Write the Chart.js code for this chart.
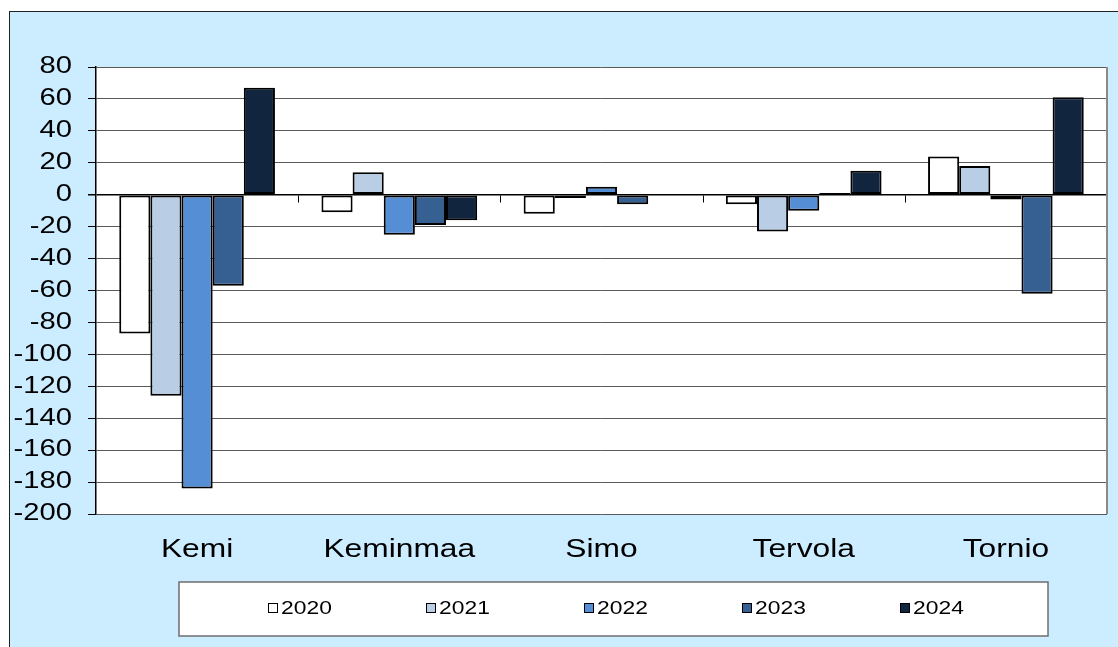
<!DOCTYPE html>
<html>
<head>
<meta charset="utf-8">
<script src="https://cdn.jsdelivr.net/npm/chart.js@4.4.1/dist/chart.umd.min.js"></script>
<style>
  html, body { margin:0; padding:0; background:#ffffff; width:1118px; height:647px; overflow:hidden; }
  #frame { position:absolute; left:9px; top:11px; width:1120px; height:650px; background:#CCECFF; border-left:1px solid #222; border-top:1px solid #222; }
  #wrap { position:absolute; left:0; top:0; width:1118px; height:647px; }
</style>
</head>
<body>
<div id="frame"></div>
<div id="wrap"><canvas id="c" width="1118" height="647"></canvas></div>
<script>
const categories = ['Kemi', 'Keminmaa', 'Simo', 'Tervola', 'Tornio'];
const seriesNames = ['2020', '2021', '2022', '2023', '2024'];
const v2020 = [-87, -11, -12, -6, 24];
const v2021 = [-126, 14, -2, -23, 18];
const v2022 = [-184, -25, 5, -10, -3];
const v2023 = [-57, -19, -6, 1, -62];
const v2024 = [67, -16, 0, 15, 61];
const yMin = -200, yMax = 80, yStep = 20;
const colors = ['#FFFFFF', '#B9CDE5', '#558ED5', '#376092', '#11253F'];
const seriesValues = [v2020, v2021, v2022, v2023, v2024];

const FONT = "'Liberation Sans', Arial, sans-serif";
const TEXT_STRETCH = 1.27;

const canvas = document.getElementById('c');
const ctx2d = canvas.getContext('2d');
const origFillText = ctx2d.fillText;
ctx2d.fillText = function (text, x, y) {
  this.save();
  this.translate(x, y);
  this.scale(TEXT_STRETCH, 1);
  origFillText.call(this, text, 0, 0);
  this.restore();
};

const decor = {
  id: 'decor',
  beforeDraw(chart) {
    const {ctx, chartArea: a} = chart;
    ctx.save();
    ctx.fillStyle = '#FFFFFF';
    ctx.fillRect(a.left, a.top, a.right - a.left, a.bottom - a.top);
    ctx.restore();
  },
  afterDatasetsDraw(chart) {
    const {ctx, chartArea: a, scales: {x, y}} = chart;
    ctx.save();
    const y0 = Math.round(y.getPixelForValue(0)) + 0.5;
    ctx.strokeStyle = '#000';
    ctx.lineWidth = 1;
    ctx.beginPath();
    for (let i = 1; i <= categories.length; i++) {
      const px = i < categories.length ? Math.round((x.getPixelForValue(i - 1) + x.getPixelForValue(i)) / 2) + 0.5 : a.right - 0.5;
      ctx.moveTo(px, y0);
      ctx.lineTo(px, y0 + 7);
    }
    ctx.stroke();
    ctx.strokeStyle = '#8a8a8a';
    ctx.lineWidth = 2;
    ctx.beginPath();
    ctx.moveTo(a.right, a.top);
    ctx.lineTo(a.right, a.bottom);
    ctx.stroke();
    ctx.restore();
  },
  afterDraw(chart) {
    const {ctx} = chart;
    ctx.save();
    ctx.fillStyle = '#FFFFFF';
    ctx.fillRect(179, 582, 869, 54);
    ctx.strokeStyle = '#6e6e6e';
    ctx.lineWidth = 1.5;
    ctx.strokeRect(179, 582, 869, 54);
    ctx.font = '18px ' + FONT;
    ctx.textBaseline = 'middle';
    ctx.textAlign = 'left';
    chart.data.datasets.forEach((ds, i) => {
      const bx = 268 + 158 * i;
      const cy = 608;
      ctx.fillStyle = ds.backgroundColor;
      ctx.fillRect(bx, cy - 5, 10, 10);
      ctx.strokeStyle = '#000';
      ctx.lineWidth = 1;
      ctx.strokeRect(bx + 0.5, cy - 4.5, 9, 9);
      ctx.fillStyle = '#000';
      ctx.fillText(ds.label, bx + 13, cy + 1);
    });
    ctx.restore();
  }
};

new Chart(canvas, {
  type: 'bar',
  data: {
    labels: categories,
    datasets: seriesNames.map((n, i) => ({
      label: n,
      data: seriesValues[i],
      backgroundColor: colors[i],
      borderColor: '#000000',
      borderWidth: 2,
      borderSkipped: false,
      categoryPercentage: 0.77,
      barPercentage: 1.0
    }))
  },
  options: {
    responsive: false,
    animation: false,
    devicePixelRatio: 1,
    layout: { padding: { top: 67, right: 11, left: 0, bottom: 0 } },
    plugins: { legend: { display: false }, tooltip: { enabled: false } },
    scales: {
      x: {
        grid: { display: false, drawTicks: false },
        border: { display: false },
        ticks: { color: '#000', font: { family: FONT, size: 25 }, padding: 21 },
        afterFit(s) { s.height = 133; }
      },
      y: {
        min: yMin, max: yMax,
        ticks: { stepSize: yStep, color: '#000', font: { family: FONT, size: 23 }, padding: 16 },
        grid: {
          color: (c) => (c.tick && c.tick.value === 0) ? '#000' : '#5a5a5a',
          lineWidth: (c) => (c.tick && c.tick.value === 0) ? 1.5 : 1,
          tickLength: 8,
          tickColor: '#000'
        },
        border: { color: '#000', width: 1.5 },
        afterFit(s) { s.width = 96; }
      }
    }
  },
  plugins: [decor]
});
</script>
</body>
</html>
